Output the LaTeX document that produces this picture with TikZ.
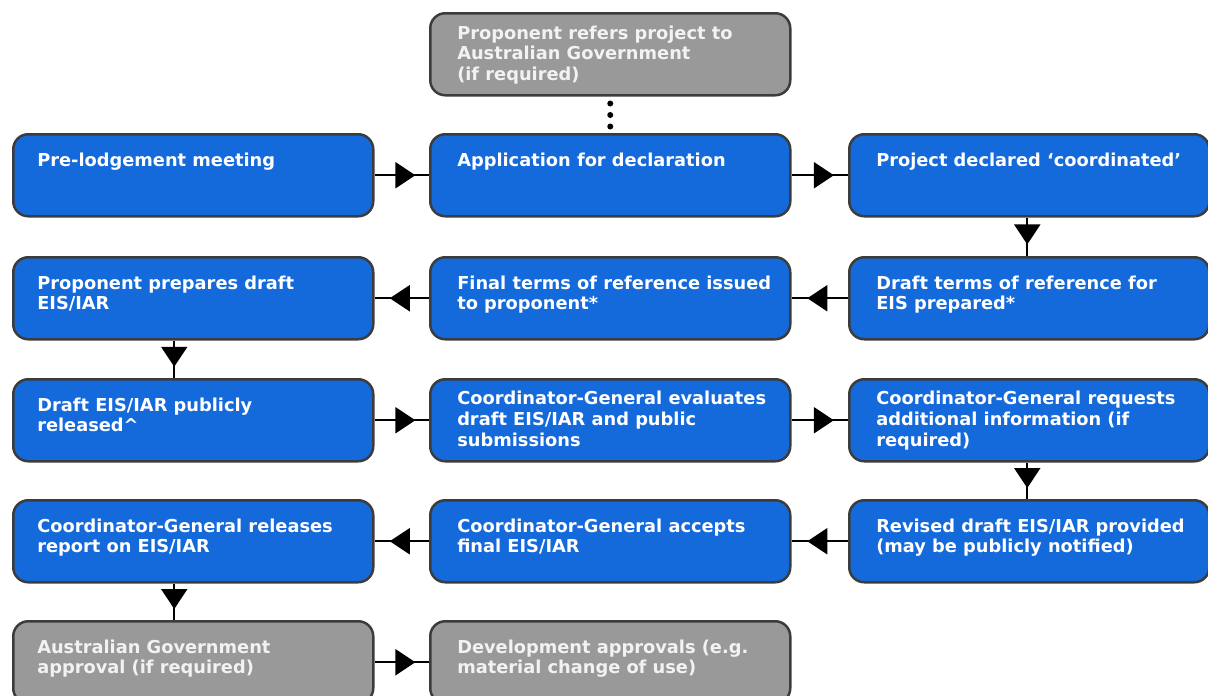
\documentclass[tikz,border=0pt]{standalone}
\usepackage{fontspec}
\usetikzlibrary{arrows.meta,decorations.markings}
\newfontfamily\verdanalike{DejaVu Sans}
\definecolor{stageblue}{HTML}{1469DB}
\definecolor{optgrey}{HTML}{999999}
\definecolor{opttext}{HTML}{F2F2F2}
\definecolor{edgegrey}{HTML}{3C3C3C}
\newcommand{\stageindent}{27pt}
\newcommand{\stagetext}[2][6.5pt]{\parbox[t][58pt][t]{360pt}{\leftskip=\stageindent\rightskip=0pt plus 1fil\vspace*{#1}#2}}

\tikzset{
	stage/.style={draw=edgegrey, line width=2.5pt, rounded corners=15pt, fill=stageblue, text=white,
		anchor=north west, minimum width=360pt, minimum height=82pt, inner xsep=0pt, inner ysep=12pt,
		font=\verdanalike\bfseries\fontsize{17.8}{20.7}\selectfont},
	optional/.style={stage, fill=optgrey, text=opttext},
	westcol/.style={execute at begin node={\renewcommand{\stageindent}{24pt}}},
	flow/.style={line width=2pt, postaction={decorate},
		decoration={markings, mark=at position #1 with {\arrow{Triangle[length=20pt,width=26pt]}}}},
	flow/.default=0.75
}

\begin{document}
\begin{tikzpicture}[x=1pt,y=1pt]
	\useasboundingbox (0,0) rectangle (1208,-696);
	
	\node[optional] (refers) at (429,-12) {\stagetext[0.5pt]{Proponent refers project to\\Australian Government\\(if required)}};
	
	\node[stage,westcol] (prelodge) at (12,-133) {\stagetext{Pre-lodgement meeting}};
	\node[stage] (application) at (429,-133) {\stagetext{Application for declaration}};
	\node[stage] (declared) at (848,-133) {\stagetext{Project declared ‘coordinated’}};
	
	\node[stage,westcol] (prepares) at (12,-256) {\stagetext{Proponent prepares draft\\EIS/IAR}};
	\node[stage] (finaltor) at (429,-256) {\stagetext{Final terms of reference issued\\to proponent*}};
	\node[stage] (drafttor) at (848,-256) {\stagetext{Draft terms of reference for\\EIS prepared*}};
	
	\node[stage,westcol] (released) at (12,-378) {\stagetext{Draft EIS/IAR publicly\\released\^{}}};
	\node[stage] (evaluates) at (429,-378) {\stagetext[0pt]{Coordinator-General evaluates\\draft EIS/IAR and public\\submissions}};
	\node[stage] (requests) at (848,-378) {\stagetext[0pt]{Coordinator-General requests\\additional information (if\\required)}};
	
	\node[stage,westcol] (report) at (12,-499) {\stagetext{Coordinator-General releases\\report on EIS/IAR}};
	\node[stage] (accepts) at (429,-499) {\stagetext{Coordinator-General accepts\\final EIS/IAR}};
	\node[stage] (revised) at (848,-499) {\stagetext{Revised draft EIS/IAR provided\\(may be publicly notified)}};
	
	\node[optional,westcol] (ausgov) at (12,-620) {\stagetext{Australian Government\\approval (if required)}};
	\node[optional] (devapp) at (429,-620) {\stagetext{Development approvals (e.g.\\material change of use)}};
	
	\draw[line width=6pt, line cap=round, dash pattern=on 0pt off 11.5pt, shorten <=7pt, shorten >=5pt] (refers) -- (application);
	
	\draw[flow] (prelodge) -- (application);
	\draw[flow] (application) -- (declared);
	\draw[flow=0.7] ([xshift=-2pt]declared.south) -- ([xshift=-2pt]drafttor.north);
	\draw[flow=0.72] (drafttor) -- (finaltor);
	\draw[flow=0.72] (finaltor) -- (prepares);
	\draw[flow=0.7] ([xshift=-19pt]prepares.south) -- ([xshift=-19pt]released.north);
	\draw[flow] (released) -- (evaluates);
	\draw[flow] (evaluates) -- (requests);
	\draw[flow=0.7] ([xshift=-2pt]requests.south) -- ([xshift=-2pt]revised.north);
	\draw[flow=0.72] (revised) -- (accepts);
	\draw[flow=0.72] (accepts) -- (report);
	\draw[flow=0.7] ([xshift=-19pt]report.south) -- ([xshift=-19pt]ausgov.north);
	\draw[flow] (ausgov) -- (devapp);
\end{tikzpicture}
\end{document}
